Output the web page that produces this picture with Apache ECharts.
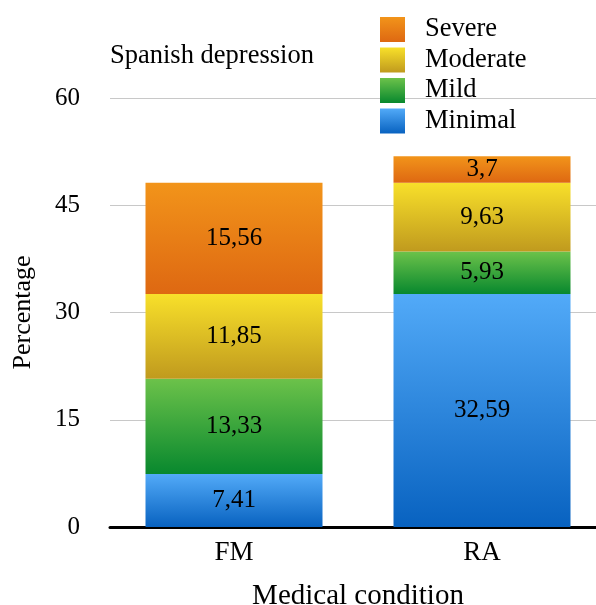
<!DOCTYPE html>
<html>
<head>
<meta charset="utf-8">
<script src="https://cdn.jsdelivr.net/npm/echarts@6/dist/echarts.min.js"></script>
<style>html,body{margin:0;padding:0;background:#fff}#c{width:596px;height:605px}</style>
</head>
<body>
<div id="c"></div>
<script>
var categories = ['FM', 'RA'];
var minimal = [7.41, 32.59];
var mild = [13.33, 5.93];
var moderate = [11.85, 9.63];
var severe = [15.56, 3.7];
var yTicks = [0, 15, 30, 45, 60];

var FONT = 'Liberation Serif';
function grad(top, bottom) {
  return new echarts.graphic.LinearGradient(0, 0, 0, 1, [
    {offset: 0, color: top}, {offset: 1, color: bottom}
  ]);
}
function mk(name, data, top, bottom) {
  return {
    name: name, type: 'bar', stack: 'a', data: data, barWidth: 177,
    itemStyle: {color: grad(top, bottom)},
    label: {show: true, position: 'inside', color: '#000', fontFamily: FONT, fontSize: 25,
      formatter: function (p) { return String(p.value).replace('.', ','); }}
  };
}
var chart = echarts.init(document.getElementById('c'), null, {renderer: 'canvas'});
chart.setOption({
  animation: false,
  textStyle: {fontFamily: FONT},
  title: {text: 'Spanish depression', left: 110, top: 43, padding: 0,
    textStyle: {fontFamily: FONT, fontSize: 26.5, fontWeight: 'normal', color: '#000'}},
  legend: {orient: 'vertical', left: 380, top: 16, padding: 0, icon: 'rect',
    itemWidth: 25, itemHeight: 25, itemGap: 3.5,
    data: ['Severe', 'Moderate', 'Mild', 'Minimal'],
    textStyle: {fontFamily: FONT, fontSize: 26.5, color: '#000', lineHeight: 22, padding: [0, 0, 0, 15]}},
  grid: {left: 110, top: 98, width: 496, height: 429, containLabel: false, outerBoundsMode: 'none'},
  xAxis: {type: 'category', data: categories,
    axisTick: {show: false},
    axisLine: {lineStyle: {color: '#000', width: 3}},
    axisLabel: {fontFamily: FONT, fontSize: 27, color: '#000', margin: 12},
    name: 'Medical condition', nameLocation: 'middle', nameGap: 55,
    nameTextStyle: {fontFamily: FONT, fontSize: 29, color: '#000'}},
  yAxis: {type: 'value', min: yTicks[0], max: yTicks[yTicks.length - 1], interval: 15,
    axisLine: {show: false}, axisTick: {show: false},
    splitLine: {lineStyle: {color: '#c8c8c8', width: 1}},
    axisLabel: {fontFamily: FONT, fontSize: 25, color: '#000', margin: 30},
    name: 'Percentage', nameLocation: 'middle', nameGap: 74, nameRotate: 90,
    nameTextStyle: {fontFamily: FONT, fontSize: 26, color: '#000'}},
  series: [
    mk('Minimal', minimal, '#52aaf8', '#0862c0'),
    mk('Mild', mild, '#6cc24a', '#08882e'),
    mk('Moderate', moderate, '#f8e02a', '#c09a1e'),
    mk('Severe', severe, '#f2941a', '#de6812')
  ]
});
</script>
</body>
</html>
